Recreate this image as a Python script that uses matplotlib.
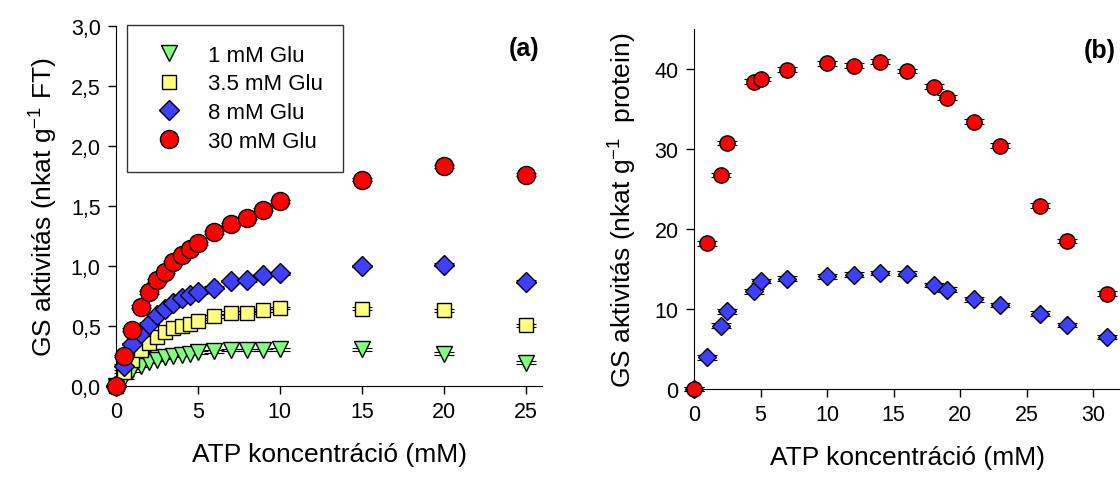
import numpy as np
import matplotlib.pyplot as plt

plt.rcParams['font.family'] = ['Liberation Sans', 'DejaVu Sans']
plt.rcParams['mathtext.fontset'] = 'custom'
plt.rcParams['mathtext.rm'] = 'Liberation Sans'

# (a) ATP concentration series at four Glu levels
atp_a = [0, 0.5, 1, 1.5, 2, 2.5, 3, 3.5, 4, 4.5, 5, 6, 7, 8, 9, 10, 15, 20, 25]
glu_1 = [0, 0.07, 0.13, 0.17, 0.20, 0.22, 0.24, 0.25, 0.26, 0.27, 0.28, 0.29, 0.30, 0.30, 0.30, 0.305, 0.305, 0.27, 0.195]
glu_35 = [0, 0.12, 0.22, 0.30, 0.36, 0.41, 0.45, 0.48, 0.50, 0.52, 0.54, 0.58, 0.61, 0.61, 0.63, 0.65, 0.645, 0.63, 0.505]
glu_8 = [0, 0.17, 0.35, 0.44, 0.52, 0.59, 0.64, 0.69, 0.73, 0.76, 0.78, 0.82, 0.875, 0.88, 0.925, 0.94, 1.00, 1.01, 0.87]
glu_30 = [0, 0.25, 0.47, 0.66, 0.78, 0.88, 0.95, 1.03, 1.09, 1.14, 1.19, 1.28, 1.35, 1.40, 1.47, 1.54, 1.72, 1.83, 1.76]
err_a = 0.012

# (b)
atp_b = [0, 1, 2, 2.5, 4.5, 5, 7, 10, 12, 14, 16, 18, 19, 21, 23, 26, 28, 31]
red_b = [0, 18.2, 26.75, 30.75, 38.4, 38.75, 39.9, 40.7, 40.4, 40.9, 39.75, 37.8, 36.4, 33.4, 30.4, 22.9, 18.5, 11.9]
blue_b = [0, 3.96, 7.9, 9.7, 12.2, 13.5, 13.8, 14.1, 14.3, 14.5, 14.4, 13.0, 12.4, 11.2, 10.5, 9.4, 8.0, 6.5]
err_b = 0.3

labels = ['1 mM Glu', '3.5 mM Glu', '8 mM Glu', '30 mM Glu']

fig = plt.figure(figsize=(11.2, 4.85), dpi=100)
ax1 = fig.add_axes([116/1120, 1-387/485, 426/1120, 360/485])
ax2 = fig.add_axes([694/1120, 1-390/485, 426/1120, 360/485])


def pts(ax, x, y, err, marker, color, ms, label=None):
    ax.errorbar(x, y, yerr=err, fmt='none', ecolor='black', elinewidth=0.8,
                capsize=7, capthick=0.8, zorder=2, clip_on=False)
    ax.plot(x, y, linestyle='none', marker=marker, markersize=ms,
            markerfacecolor=color, markeredgecolor='black', markeredgewidth=1.0,
            label=label, zorder=3, clip_on=False)


pts(ax1, atp_a, glu_1, err_a, 'v', '#80ff80', 11, labels[0])
pts(ax1, atp_a, glu_35, err_a, 's', '#ffff80', 10, labels[1])
pts(ax1, atp_a, glu_8, err_a, 'D', '#3f3fff', 10, labels[2])
pts(ax1, atp_a, glu_30, err_a, 'o', '#ff0000', 13, labels[3])

pts(ax2, atp_b, blue_b, err_b, 'D', '#3f3fff', 9)
pts(ax2, atp_b, red_b, err_b, 'o', '#ff0000', 11)

for ax in (ax1, ax2):
    ax.spines['top'].set_visible(False)
    ax.spines['right'].set_visible(False)
    ax.tick_params(direction='out', length=6, width=1, labelsize=15.5, pad=5)

ax1.set_xlim(0, 26)
ax1.set_ylim(0, 3.0)
ax1.set_xticks([0, 5, 10, 15, 20, 25])
ax1.set_yticks(np.arange(0, 3.01, 0.5))
ax1.set_yticklabels(['0,0', '0,5', '1,0', '1,5', '2,0', '2,5', '3,0'])
ax1.set_xlabel('ATP koncentráció (mM)', fontsize=19, labelpad=14)
ax1.set_ylabel('GS aktivitás (nkat g$^{\\mathregular{-1}}$ FT)', fontsize=19, labelpad=8)
ax1.text(24.9, 2.82, '(a)', fontsize=18, fontweight='bold', ha='center', va='center')

leg = ax1.legend(loc='upper left', bbox_to_anchor=(0.026, 1.003), fontsize=16,
                 frameon=True, fancybox=False, edgecolor='black', borderpad=0.9,
                 borderaxespad=0, handletextpad=0.75, labelspacing=0.34,
                 handlelength=2.0)
leg.get_frame().set_linewidth(1.0)

ax2.set_xlim(0, 32)
ax2.set_ylim(0, 45)
ax2.set_xticks([0, 5, 10, 15, 20, 25, 30])
ax2.set_yticks([0, 10, 20, 30, 40])
ax2.set_xlabel('ATP koncentráció (mM)', fontsize=19, labelpad=14)
ax2.set_ylabel('GS aktivitás (nkat g$^{\\mathregular{-1}}$  protein)', fontsize=19, labelpad=12)
ax2.text(30.5, 42.4, '(b)', fontsize=18, fontweight='bold', ha='center', va='center', clip_on=False)

fig.savefig('out.png', dpi=100)
